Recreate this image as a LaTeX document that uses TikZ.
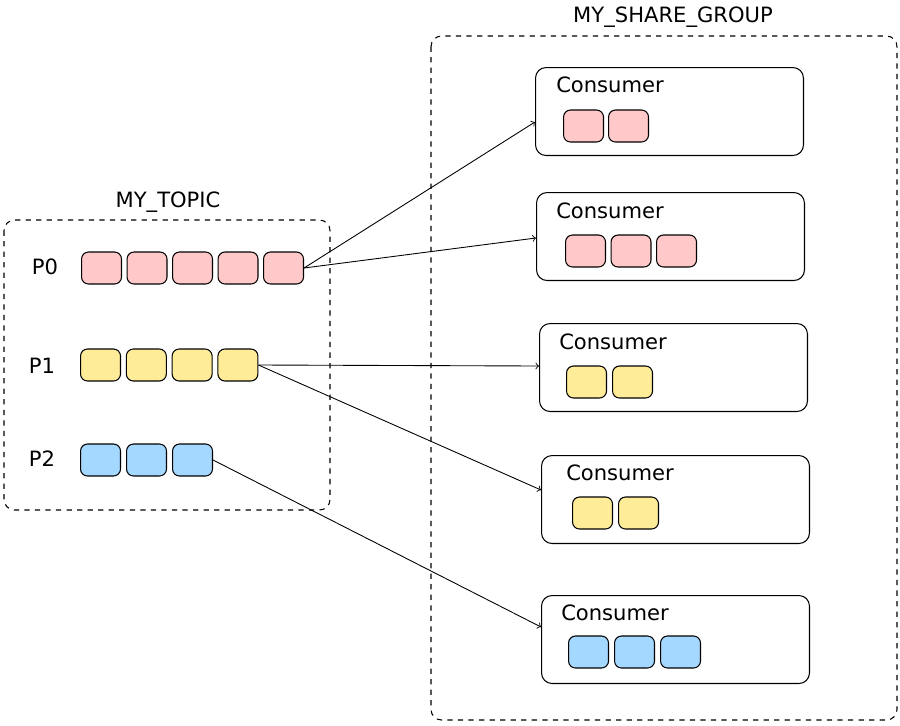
\documentclass[tikz,border=0pt]{standalone}
\usepackage{fontspec}
\setmainfont{DejaVu Sans}
\usetikzlibrary{positioning}
\definecolor{pinkfill}{HTML}{FFC9C9}
\definecolor{yellowfill}{HTML}{FFEC99}
\definecolor{bluefill}{HTML}{A5D8FF}
\tikzset{
  group/.style={draw,dashed,rounded corners=6pt,line width=0.6pt},
  consumer/.style={draw,rounded corners=6pt,line width=0.6pt,minimum width=5.36cm,minimum height=1.76cm,anchor=north west},
  msg/.style={draw,rounded corners=4pt,line width=0.6pt,minimum width=0.8cm,minimum height=0.64cm,anchor=west,inner sep=0pt},
  lbl/.style={font=\large},
  flow/.style={->,line width=0.5pt}
}
\begin{document}
\begin{tikzpicture}[x=0.02cm,y=-0.02cm]
  \useasboundingbox (0,0) rectangle (900,725);
  % groups
  \draw[group] (4,220) rectangle (330,510);
  \node[lbl] (topic) at (168,202) {MY\_TOPIC};
  \draw[group] (431,36) rectangle (897,720);
  \node[lbl] (share) at (673,17) {MY\_SHARE\_GROUP};
  % partitions
  \node[lbl] (p0) at (45,267) {P0};
  \node[lbl] (p1) at (42,366) {P1};
  \node[lbl] (p2) at (42,459) {P2};
  \foreach \i in {1,...,5}
    \node[msg,fill=pinkfill] (a\i) at ({81+45.5*(\i-1)},268) {};
  \foreach \i in {1,...,4}
    \node[msg,fill=yellowfill] (b\i) at ({80+45.8*(\i-1)},365) {};
  \foreach \i in {1,...,3}
    \node[msg,fill=bluefill] (c\i) at ({80+46*(\i-1)},460) {};
  % consumers
  \node[consumer] (k1) at (535,67) {};
  \node[consumer] (k2) at (536,192) {};
  \node[consumer] (k3) at (539,323) {};
  \node[consumer] (k4) at (541,455) {};
  \node[consumer] (k5) at (541,595) {};
  \node[lbl] at (610,85) {Consumer};
  \node[lbl] at (610,211) {Consumer};
  \node[lbl] at (613,342) {Consumer};
  \node[lbl] at (620,473) {Consumer};
  \node[lbl] at (615,613) {Consumer};
  \foreach \i in {1,2}
    \node[msg,fill=pinkfill] at ({563+45*(\i-1)},126) {};
  \foreach \i in {1,2,3}
    \node[msg,fill=pinkfill] at ({565+45.5*(\i-1)},251) {};
  \foreach \i in {1,2}
    \node[msg,fill=yellowfill] at ({566+46*(\i-1)},382) {};
  \foreach \i in {1,2}
    \node[msg,fill=yellowfill] at ({572+46*(\i-1)},513) {};
  \foreach \i in {1,2,3}
    \node[msg,fill=bluefill] at ({568+46*(\i-1)},652) {};
  % arrows
  \draw[flow] (a5.east) -- ([yshift=-1.1cm]k1.north west);
  \draw[flow] (a5.east) -- ([yshift=-0.92cm]k2.north west);
  \draw[flow] (b4.east) -- ([yshift=-0.86cm]k3.north west);
  \draw[flow] (b4.east) -- ([yshift=-0.7cm]k4.north west);
  \draw[flow] (c3.east) -- ([yshift=-0.64cm]k5.north west);
\end{tikzpicture}
\end{document}
